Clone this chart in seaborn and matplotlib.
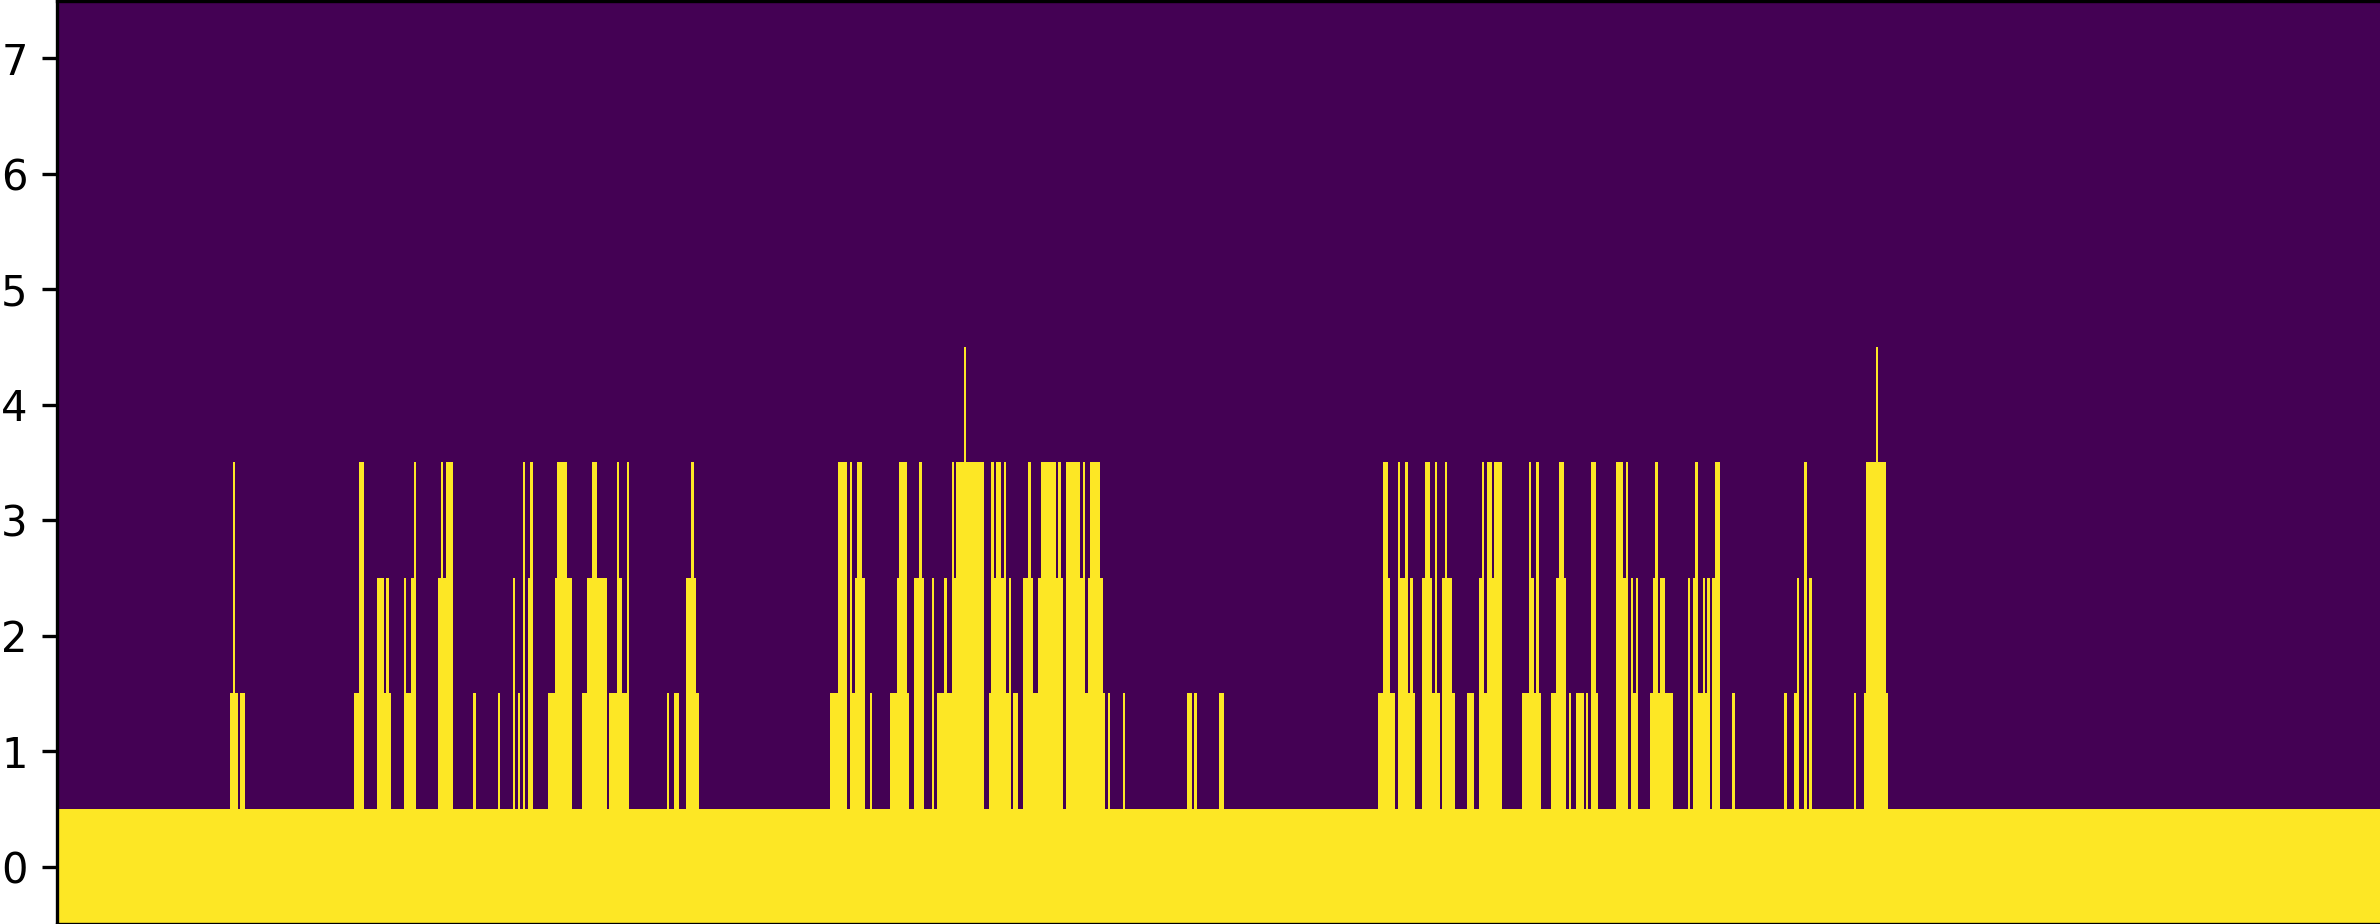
import numpy as np
import matplotlib
matplotlib.use('Agg')
import matplotlib.pyplot as plt
import seaborn as sns

n_columns = 938
n_rows = 8
row_labels = [0, 1, 2, 3, 4, 5, 6, 7]

# occupied columns per row, as (first, stop) column ranges; row 0 is fully occupied
row1_ranges = [(70,73),(74,76),(120,124),(129,135),(140,145),(154,160),(168,169),(178,179),(184,185),(186,187),(188,189),(190,192),(198,208),(212,222),
               (223,231),(246,247),(249,251),(254,259),(312,319),(320,326),(328,329),(336,344),(346,350),(353,354),(355,374),(376,385),(386,388),
               (390,406),(407,423),(424,425),(430,431),(456,458),(459,460),(469,471),(533,540),(541,548),(551,558),(559,564),(569,572),(574,583),
               (591,599),(603,609),(610,611),(613,616),(617,618),(619,622),(629,634),(635,638),(643,652),(658,659),(660,667),(668,671),(676,677),
               (697,698),(701,703),(705,706),(707,708),(725,726),(729,739)]
row2_ranges = [(129,132),(133,134),(140,141),(143,145),(154,160),(184,185),(188,189),(190,192),(201,208),(214,222),(226,228),(230,231),(254,258),
               (315,319),(320,321),(322,326),(339,343),(346,350),(353,354),(358,359),(361,374),(377,383),(384,385),(390,394),(396,406),(407,415),
               (416,422),(535,538),(541,545),(546,547),(551,555),(556,557),(559,563),(574,576),(577,583),(594,596),(597,598),(605,609),(619,621),
               (629,634),(635,636),(637,638),(644,646),(647,649),(658,659),(660,662),(664,665),(666,667),(668,671),(702,703),(705,706),(707,708),
               (730,738)]
row3_ranges = [(71,72),(122,124),(144,145),(155,156),(157,160),(188,189),(191,192),(202,206),(216,218),(226,227),(230,231),(256,257),(315,319),(320,321),
               (323,325),(340,343),(348,349),(361,362),(363,374),(377,378),(379,381),(382,383),(392,393),(397,403),(404,405),(407,413),(414,415),
               (417,421),(535,537),(541,542),(544,545),(552,554),(556,557),(560,561),(575,576),(577,579),(580,583),(594,595),(597,598),(606,608),
               (619,621),(629,632),(633,634),(645,646),(661,662),(669,671),(705,706),(730,738)]
row4_ranges = [(366,367),(734,735)]

grid = np.zeros((n_rows, n_columns))
grid[0, :] = 1
for r, ranges in enumerate([row1_ranges, row2_ranges, row3_ranges, row4_ranges], start=1):
    for a, b in ranges:
        grid[:r + 1, a:b] = 1

W, H = 2380, 924
fig = plt.figure(figsize=(W / 300, H / 300), dpi=300)
left, right, top, bottom = 56.8, 2381.6, 0.6, 924.3
ax = fig.add_axes([left / W, 1 - bottom / H, (right - left) / W, (bottom - top) / H])

sns.heatmap(grid, ax=ax, cmap='viridis', vmin=0, vmax=1, cbar=False,
            xticklabels=False, yticklabels=row_labels)
ax.set_ylim(0, n_rows)
ax.set_xlim(0, n_columns)
ax.tick_params(axis='y', labelrotation=0, length=3.5, width=0.8, labelsize=10, left=True)
ax.tick_params(axis='x', bottom=False)
for label in ax.get_yticklabels():
    label.set_verticalalignment('center_baseline')
for s in ax.spines.values():
    s.set_visible(True)
    s.set_linewidth(0.8)
    s.set_color('black')

fig.savefig('out.png', dpi=300)
